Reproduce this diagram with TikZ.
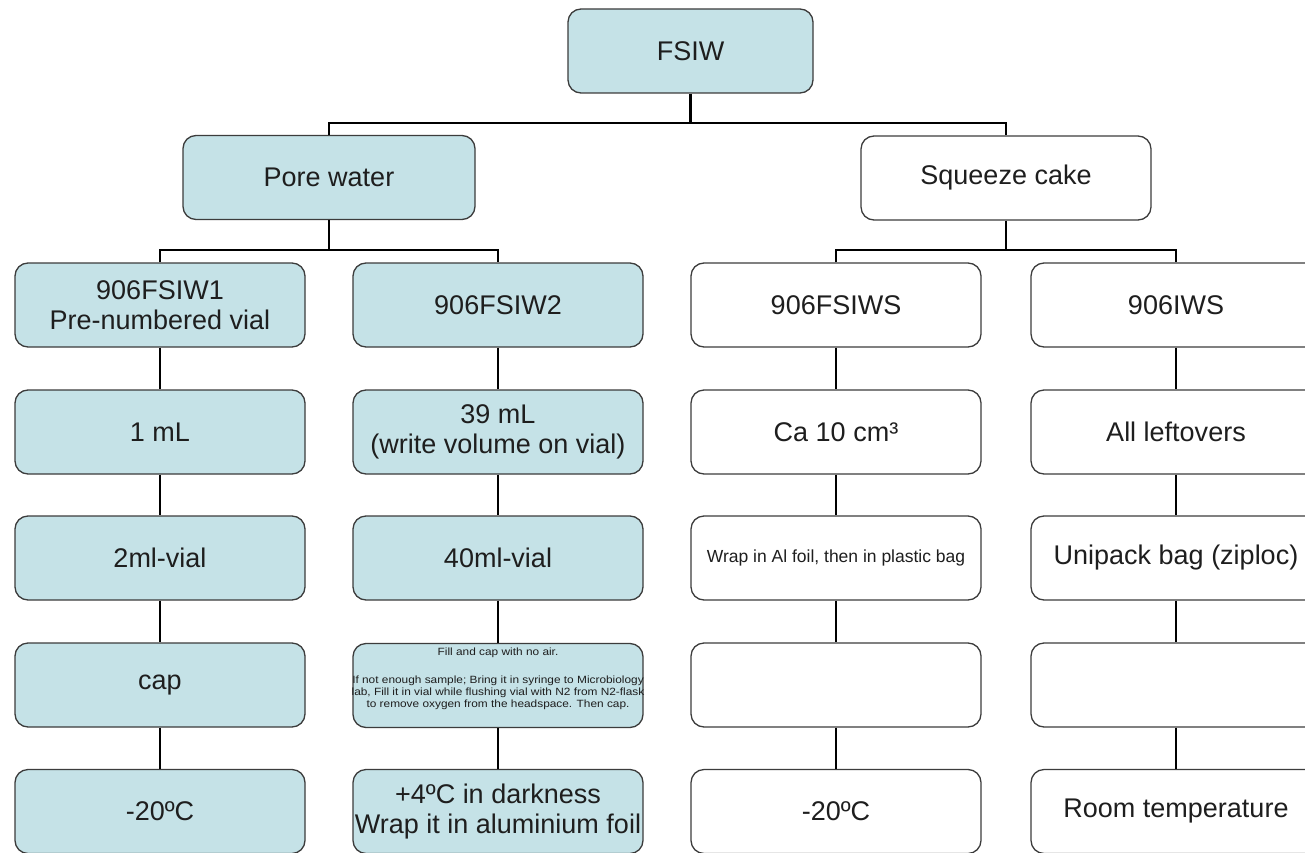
\documentclass[tikz,border=0pt]{standalone}
\usepackage{fontspec}
\setmainfont{Liberation Sans}
\usepackage{graphicx}
\definecolor{boxblue}{RGB}{197,226,231}
\definecolor{boxline}{RGB}{60,60,60}
\definecolor{txt}{RGB}{30,30,30}
\newcommand{\widetxt}[1]{\scalebox{1.13}[1]{#1}}
\tikzset{
  basebox/.style={draw=boxline, line width=1.3pt, rounded corners=13pt,
    minimum width=290pt, minimum height=84pt, inner sep=1pt, align=center,
    font=\fontsize{27}{30}\selectfont, text=txt},
  bluebox/.style={basebox, fill=boxblue},
  whitebox/.style={basebox, fill=white},
  conn/.style={draw=black, line width=2.2pt},
  tinytext/.style={font=\fontsize{10.5}{12}\selectfont, text=txt, align=center, inner sep=0pt},
}
\begin{document}
\begin{tikzpicture}[x=1pt,y=-1pt]
\useasboundingbox (0,0) rectangle (1305,853);
\fill[white] (0,0) rectangle (1305,853);

% junction coordinates
\coordinate (j0) at (690.5,123);
\coordinate (j1) at (329,250);
\coordinate (j2) at (1006,250);

\node[bluebox, minimum width=245pt] (fsiw) at (690.5,51) {FSIW};
\node[bluebox, minimum width=292pt] (pore) at (329,177.5) {Pore water};
\node[whitebox] (sq) at (1006,178) {Squeeze cake};

% column 1
\node[bluebox] (a1) at (160,305) {906FSIW1\\Pre-numbered vial};
\node[bluebox] (a2) at (160,432) {1 mL};
\node[bluebox] (a3) at (160,558) {2ml-vial};
\node[bluebox] (a4) at (160,685) {cap};
\node[bluebox] (a5) at (160,811.5) {-20ºC};

% column 2
\node[bluebox] (b1) at (498,305) {906FSIW2};
\node[bluebox] (b2) at (498,432) {39 mL\\(write volume on vial)};
\node[bluebox] (b3) at (498,558) {40ml-vial};
\node[bluebox] (b4) at (498,685.5) {};
\node[bluebox] (b5) at (498,811.5) {+4ºC in darkness\\Wrap it in aluminium foil};
\node[tinytext] (b4t) at (498,679) {\widetxt{Fill and cap with no air.}\\[16pt]
  \widetxt{If not enough sample; Bring it in syringe to Microbiology}\\
  \widetxt{lab, Fill it in vial while flushing vial with N2 from N2-flask}\\
  \widetxt{to remove oxygen from the headspace. Then cap.}};

% column 3
\node[whitebox] (c1) at (836,305) {906FSIWS};
\node[whitebox] (c2) at (836,432) {Ca 10 cm³};
\node[whitebox, font=\fontsize{17.5}{20}\selectfont] (c3) at (836,558) {Wrap in Al foil, then in plastic bag};
\node[whitebox] (c4) at (836,685) {};
\node[whitebox] (c5) at (836,811.5) {-20ºC};

% column 4
\node[whitebox] (d1) at (1176,305) {906IWS};
\node[whitebox] (d2) at (1176,432) {All leftovers};
\node[whitebox] (d3) at (1176,558) {Unipack bag (ziploc)};
\node[whitebox] (d4) at (1176,685) {};
\node[whitebox] (d5) at (1176,811.5) {Room temperature};

% tree connectors
\draw[conn] (fsiw.south) -- (j0);
\draw[conn] (pore.north) |- (j0) -| (sq.north);
\draw[conn] (pore.south) -- (j1);
\draw[conn] (a1.north) |- (j1) -| (b1.north);
\draw[conn] (sq.south) -- (j2);
\draw[conn] (c1.north) |- (j2) -| (d1.north);

% vertical chains
\foreach \c in {a,b,c,d}{
  \draw[conn] (\c1.south) -- (\c2.north);
  \draw[conn] (\c2.south) -- (\c3.north);
  \draw[conn] (\c3.south) -- (\c4.north);
  \draw[conn] (\c4.south) -- (\c5.north);
}
\end{tikzpicture}
\end{document}
